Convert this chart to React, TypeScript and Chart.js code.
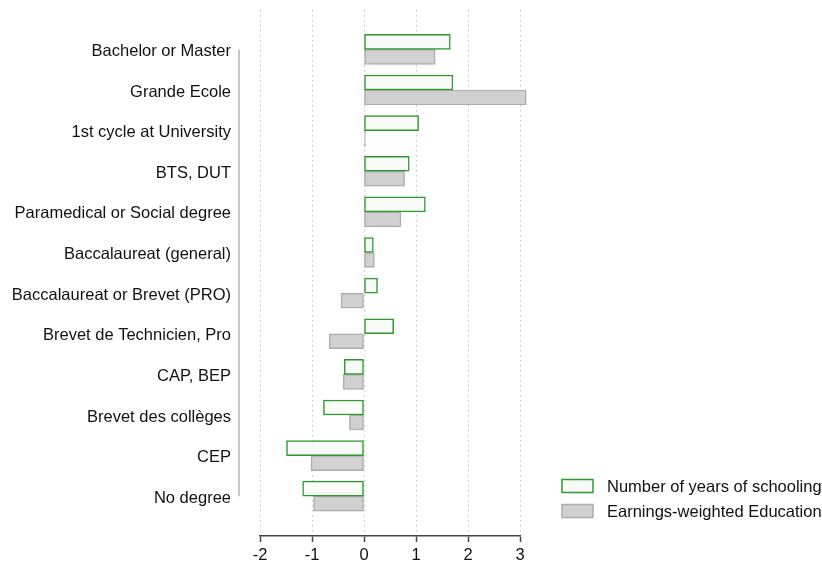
import React, { useEffect, useRef } from 'react';
import { Chart, registerables } from 'chart.js';

Chart.register(...registerables);

const categories = [
  'Bachelor or Master',
  'Grande Ecole',
  '1st cycle at University',
  'BTS, DUT',
  'Paramedical or Social degree',
  'Baccalaureat (general)',
  'Baccalaureat or Brevet (PRO)',
  'Brevet de Technicien, Pro',
  'CAP, BEP',
  'Brevet des collèges',
  'CEP',
  'No degree',
];
const yearsOfSchooling = [1.66, 1.71, 1.05, 0.87, 1.18, 0.18, 0.26, 0.57, -0.38, -0.78, -1.49, -1.18];
const earningsWeighted = [1.37, 3.12, 0.03, 0.78, 0.71, 0.2, -0.44, -0.67, -0.4, -0.28, -1.02, -0.97];
const xTicks = [-2, -1, 0, 1, 2, 3];
const seriesNames = ['Number of years of schooling', 'Earnings-weighted Education'];

const FONT = "'Liberation Sans', Arial, Helvetica, sans-serif";

const categoryLinePlugin = {
  id: 'categoryLine',
  afterDraw(chart: any) {
    const ys = chart.scales.y;
    const ctx = chart.ctx;
    const x = chart.chartArea.left - 21;
    ctx.save();
    ctx.strokeStyle = '#b4b4b4';
    ctx.lineWidth = 1.5;
    ctx.beginPath();
    ctx.moveTo(x, ys.getPixelForValue(0));
    ctx.lineTo(x, ys.getPixelForValue(categories.length - 1));
    ctx.stroke();
    ctx.restore();
  },
};

// Legend drawn beside the plot area, bottom-aligned (as in the reference)
const sideLegendPlugin = {
  id: 'sideLegend',
  afterDraw(chart: any) {
    const ctx = chart.ctx;
    const area = chart.chartArea;
    const ds = chart.data.datasets;
    const boxX = area.right + 42;
    const textX = area.right + 87;
    const rowGap = 25;
    const firstY = area.bottom - 50;
    ctx.save();
    ds.forEach((d: any, i: number) => {
      const cy = firstY + i * rowGap;
      ctx.fillStyle = d.backgroundColor;
      ctx.fillRect(boxX, cy - 6.5, 31, 13);
      ctx.lineWidth = 1.5;
      ctx.strokeStyle = d.borderColor;
      ctx.strokeRect(boxX, cy - 6.5, 31, 13);
      ctx.fillStyle = '#111';
      ctx.font = `16.5px ${FONT}`;
      ctx.textAlign = 'left';
      ctx.textBaseline = 'middle';
      ctx.fillText(d.label, textX, cy + 1);
    });
    ctx.restore();
  },
};

export default function App() {
  const ref = useRef<HTMLCanvasElement | null>(null);

  useEffect(() => {
    if (!ref.current) return;
    const chart = new Chart(ref.current, {
      type: 'bar',
      data: {
        datasets: [
          {
            label: seriesNames[0],
            data: yearsOfSchooling.map((v, i) => ({ x: v, y: i })),
            backgroundColor: '#f8fbf8',
            borderColor: '#2e9a2e',
            borderWidth: 1.5,
            borderSkipped: false,
            barThickness: 15,
            clip: false,
          },
          {
            label: seriesNames[1],
            data: earningsWeighted.map((v, i) => ({ x: v, y: i })),
            backgroundColor: '#d1d1d1',
            borderColor: '#adadad',
            borderWidth: 1.5,
            borderSkipped: false,
            barThickness: 15,
            clip: false,
          },
        ],
      },
      options: {
        indexAxis: 'y',
        animation: false,
        responsive: false,
        maintainAspectRatio: false,
        devicePixelRatio: 1,
        layout: { padding: { top: 10, left: 10, right: 302, bottom: 0 } },
        plugins: {
          tooltip: { enabled: false },
          legend: { display: false },
        },
        scales: {
          x: {
            type: 'linear',
            position: 'bottom',
            min: -2,
            max: 3,
            afterBuildTicks: (s: any) => {
              s.ticks = xTicks.map((v) => ({ value: v }));
            },
            grid: {
              color: '#c4c4c4',
              lineWidth: 1,
              tickColor: '#444',
              tickLength: 6,
              tickWidth: 1.5,
            },
            border: { display: true, color: '#444', width: 1.5, dash: [1.5, 3.5] },
            ticks: {
              color: '#111',
              padding: 4,
              maxRotation: 0,
              font: { family: FONT, size: 16.5 },
              callback: (v: any) => String(v),
            },
            afterFit: (s: any) => {
              s.height = 32;
              s.paddingLeft = 0;
              s.paddingRight = 0;
            },
          },
          y: {
            type: 'linear',
            position: 'left',
            reverse: true,
            offset: false,
            min: -0.97,
            max: 11.98,
            afterBuildTicks: (s: any) => {
              s.ticks = categories.map((_, i) => ({ value: i }));
            },
            grid: { display: false, drawTicks: false, offset: false },
            border: { display: false },
            ticks: {
              color: '#111',
              padding: 29,
              labelOffset: 2,
              font: { family: FONT, size: 16.5 },
              callback: (v: any) => categories[v] ?? '',
            },
            afterFit: (s: any) => {
              s.width = 250;
              s.paddingTop = 0;
              s.paddingBottom = 0;
            },
          },
        },
      } as any,
      plugins: [categoryLinePlugin, sideLegendPlugin],
    });
    return () => chart.destroy();
  }, []);

  return (
    <div style={{ position: 'absolute', left: 0, top: 0, width: 822, height: 568, background: '#fff' }}>
      <canvas ref={ref} width={822} height={568} />
    </div>
  );
}
